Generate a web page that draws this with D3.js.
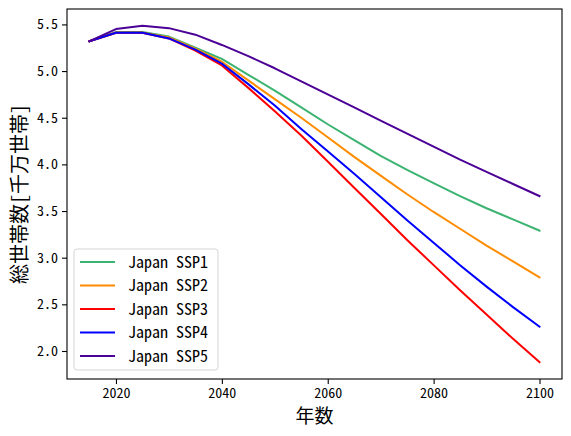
<!DOCTYPE html>
<html>
<head>
<meta charset="utf-8">
<script src="https://cdn.jsdelivr.net/npm/d3@7"></script>
<style>
  body { margin: 0; background: #fff; }
  svg text { font-family: "Noto Sans Mono CJK JP", "Noto Sans CJK JP", monospace; fill: #000; }
</style>
</head>
<body>
<svg id="chart" width="571" height="436"></svg>
<script>
// years on the x axis
var years = [2015, 2020, 2025, 2030, 2035, 2040, 2045, 2050, 2055, 2060,
             2065, 2070, 2075, 2080, 2085, 2090, 2095, 2100];

// households, ten millions
var ssp1 = [5.32, 5.42, 5.42, 5.37, 5.25, 5.13, 4.96, 4.79, 4.61, 4.43,
            4.26, 4.09, 3.94, 3.80, 3.66, 3.53, 3.41, 3.29];
var ssp2 = [5.32, 5.41, 5.41, 5.36, 5.24, 5.10, 4.90, 4.70, 4.50, 4.29,
            4.08, 3.88, 3.68, 3.49, 3.31, 3.13, 2.96, 2.79];
var ssp3 = [5.32, 5.41, 5.41, 5.35, 5.22, 5.06, 4.82, 4.57, 4.31, 4.03,
            3.75, 3.47, 3.19, 2.92, 2.65, 2.39, 2.13, 1.88];
var ssp4 = [5.32, 5.41, 5.41, 5.35, 5.23, 5.08, 4.86, 4.63, 4.38, 4.14,
            3.90, 3.65, 3.40, 3.16, 2.92, 2.69, 2.47, 2.26];
var ssp5 = [5.32, 5.45, 5.485, 5.46, 5.39, 5.28, 5.16, 5.03, 4.89, 4.75,
            4.61, 4.47, 4.33, 4.19, 4.05, 3.92, 3.79, 3.66];

var seriesNames = ["Japan SSP1", "Japan SSP2", "Japan SSP3", "Japan SSP4", "Japan SSP5"];
var seriesColors = ["#3cb371", "#ff8c00", "#ff0000", "#0000ff", "#4b0096"];
var xTicks = [2020, 2040, 2060, 2080, 2100];
var yTicks = [2.0, 2.5, 3.0, 3.5, 4.0, 4.5, 5.0, 5.5];

var allSeries = [ssp1, ssp2, ssp3, ssp4, ssp5];

var svg = d3.select("#chart");
var margin = {left: 67, right: 9, top: 9, bottom: 57};
var w = 571 - margin.left - margin.right;
var h = 436 - margin.top - margin.bottom;

// matplotlib style 5% padding
var xmin = d3.min(years), xmax = d3.max(years);
var xpad = (xmax - xmin) * 0.05;
var ymin = d3.min(allSeries, function(s) { return d3.min(s); });
var ymax = d3.max(allSeries, function(s) { return d3.max(s); });
var ypad = (ymax - ymin) * 0.05;

var x = d3.scaleLinear().domain([xmin - xpad, xmax + xpad]).range([0, w]);
var y = d3.scaleLinear().domain([ymin - ypad, ymax + ypad]).range([h, 0]);

var g = svg.append("g").attr("transform", "translate(" + margin.left + "," + margin.top + ")");

var line = d3.line()
    .x(function(d, i) { return x(years[i]); })
    .y(function(d) { return y(d); });

allSeries.forEach(function(s, i) {
    g.append("path")
        .datum(s)
        .attr("d", line)
        .attr("fill", "none")
        .attr("stroke", seriesColors[i])
        .attr("stroke-width", 2)
        .attr("stroke-linejoin", "round")
        .attr("stroke-linecap", "square");
});

// axes
var xAxis = d3.axisBottom(x).tickValues(xTicks).tickSize(5).tickPadding(4)
    .tickFormat(d3.format("d"));
var yAxis = d3.axisLeft(y).tickValues(yTicks).tickSize(5).tickPadding(4)
    .tickFormat(function(d) { return d.toFixed(1); });

var gx = g.append("g").attr("transform", "translate(0," + h + ")").call(xAxis);
var gy = g.append("g").call(yAxis);
[gx, gy].forEach(function(a) {
    a.select(".domain").remove();
    a.selectAll("line").attr("stroke", "#000").attr("stroke-width", 1.1);
    a.selectAll("text").attr("font-size", 14).attr("fill", "#000");
});

// frame
g.append("rect")
    .attr("width", w).attr("height", h)
    .attr("fill", "none").attr("stroke", "#000").attr("stroke-width", 1.1);

// labels
svg.append("text")
    .attr("x", margin.left + w / 2).attr("y", 423)
    .attr("text-anchor", "middle").attr("font-size", 19)
    .text("年数");
svg.append("text")
    .attr("transform", "translate(27," + (margin.top + h / 2) + ") rotate(-90)")
    .attr("text-anchor", "middle").attr("font-size", 20)
    .text("総世帯数[千万世帯]");

// legend
var lg = g.append("g").attr("transform", "translate(7,240)");
lg.append("rect")
    .attr("width", 144).attr("height", 121).attr("rx", 3)
    .attr("fill", "#fff").attr("fill-opacity", 0.8)
    .attr("stroke", "#d5d5d5").attr("stroke-width", 1);
seriesNames.forEach(function(name, i) {
    var yy = 13 + i * 23.5;
    lg.append("line")
        .attr("x1", 6).attr("x2", 41).attr("y1", yy).attr("y2", yy)
        .attr("stroke", seriesColors[i]).attr("stroke-width", 2);
    lg.append("text")
        .attr("x", 54).attr("y", yy).attr("dy", "0.35em")
        .attr("font-size", 16)
        .text(name);
});
</script>
</body>
</html>
